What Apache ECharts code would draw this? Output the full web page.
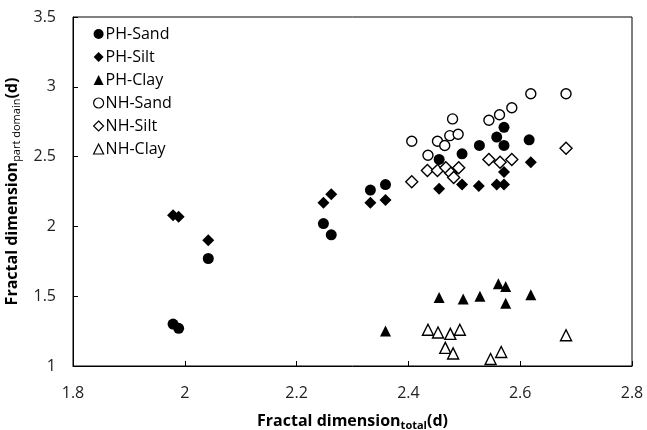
<!DOCTYPE html>
<html>
<head>
<meta charset="utf-8">
<script src="https://cdn.jsdelivr.net/npm/echarts@6/dist/echarts.min.js"></script>
<style>
  html, body { margin: 0; padding: 0; background: #fff; }
  #chart { width: 647px; height: 430px; }
</style>
</head>
<body>
<div id="chart"></div>
<script>
// values: [total, part domain]
var phSand = [[1.979, 1.30], [1.989, 1.27], [2.042, 1.77], [2.248, 2.02], [2.262, 1.94],
  [2.332, 2.26], [2.359, 2.30], [2.455, 2.48], [2.496, 2.52], [2.527, 2.58],
  [2.558, 2.64], [2.571, 2.71], [2.571, 2.58], [2.616, 2.62]];
var phSilt = [[1.979, 2.08], [1.989, 2.07], [2.042, 1.90], [2.248, 2.17], [2.262, 2.23],
  [2.332, 2.17], [2.359, 2.19], [2.455, 2.27], [2.496, 2.30], [2.526, 2.29],
  [2.558, 2.30], [2.571, 2.30], [2.571, 2.39], [2.619, 2.46]];
var phClay = [[2.359, 1.25], [2.455, 1.49], [2.498, 1.48], [2.528, 1.50], [2.561, 1.59],
  [2.574, 1.57], [2.574, 1.45], [2.619, 1.51]];
var nhSand = [[2.406, 2.61], [2.435, 2.51], [2.452, 2.61], [2.465, 2.58], [2.474, 2.65],
  [2.479, 2.77], [2.489, 2.66], [2.544, 2.76], [2.563, 2.80], [2.585, 2.85],
  [2.619, 2.95], [2.682, 2.95]];
var nhSilt = [[2.406, 2.32], [2.434, 2.40], [2.452, 2.40], [2.467, 2.42], [2.476, 2.38],
  [2.481, 2.35], [2.490, 2.42], [2.544, 2.48], [2.564, 2.46], [2.585, 2.48], [2.682, 2.56]];
var nhClay = [[2.435, 1.26], [2.453, 1.24], [2.475, 1.23], [2.492, 1.26], [2.466, 1.13],
  [2.480, 1.09], [2.547, 1.05], [2.566, 1.10], [2.682, 1.22]];
var seriesNames = ['PH-Sand', 'PH-Silt', 'PH-Clay', 'NH-Sand', 'NH-Silt', 'NH-Clay'];

var font = "'Open Sans', 'Noto Sans', sans-serif";
var chart = echarts.init(document.getElementById('chart'));

function filled(name, data, symbol, size) {
  return {
    name: name, type: 'scatter', data: data, symbol: symbol, symbolSize: size,
    itemStyle: { color: '#000', opacity: 1 }
  };
}
function hollow(name, data, symbol, size) {
  return {
    name: name, type: 'scatter', data: data, symbol: symbol, symbolSize: size,
    itemStyle: { color: '#fff', borderColor: '#000', borderWidth: 1.4, opacity: 1 }
  };
}

chart.setOption({
  animation: false,
  backgroundColor: '#fff',
  grid: {
    left: 73, right: 15, top: 17, bottom: 64,
    outerBoundsMode: 'none',
    show: true, borderColor: '#000', borderWidth: 1
  },
  legend: {
    data: seriesNames,
    orient: 'vertical',
    left: 88, top: 21,
    itemGap: 7,
    itemWidth: 10, itemHeight: 10,
    itemStyle: { borderWidth: 1.2 },
    textStyle: { fontFamily: font, fontSize: 16, color: '#000', padding: [0, 0, 0, -3] }
  },
  xAxis: {
    type: 'value', min: 1.8, max: 2.8, interval: 0.2,
    name: '{a|Fractal dimension}{b|total}{a|(d)}',
    nameLocation: 'middle', nameGap: 45,
    nameTextStyle: {
      rich: {
        a: { fontFamily: font, fontSize: 16, fontWeight: 'bold', color: '#000' },
        b: { fontFamily: font, fontSize: 11, fontWeight: 'bold', color: '#000', padding: [9, 0, 0, 0] }
      }
    },
    splitLine: { show: false },
    axisLine: { lineStyle: { color: '#000' } },
    axisTick: { inside: true, length: 5, lineStyle: { color: '#000' } },
    axisLabel: { fontFamily: font, fontSize: 16, color: '#222', margin: 19,
      formatter: function (v) { return String(+v.toFixed(1)); } }
  },
  yAxis: {
    type: 'value', min: 1, max: 3.5, interval: 0.5,
    name: '{a|Fractal dimension}{b|part domain}{a|(d)}',
    nameLocation: 'middle', nameGap: 47, nameRotate: 90,
    nameTextStyle: {
      rich: {
        a: { fontFamily: font, fontSize: 16, fontWeight: 'bold', color: '#000' },
        b: { fontFamily: font, fontSize: 11, color: '#000', padding: [9, 0, 0, 0] }
      }
    },
    splitLine: { show: false },
    axisLine: { show: true, lineStyle: { color: '#000' } },
    axisTick: { show: true, inside: true, length: 5, lineStyle: { color: '#000' } },
    axisLabel: { fontFamily: font, fontSize: 16, color: '#222', margin: 17 }
  },
  series: [
    filled('PH-Sand', phSand, 'circle', 11),
    filled('PH-Silt', phSilt, 'diamond', 12),
    filled('PH-Clay', phClay, 'triangle', 11),
    hollow('NH-Sand', nhSand, 'circle', 10),
    hollow('NH-Silt', nhSilt, 'diamond', 12),
    hollow('NH-Clay', nhClay, 'triangle', 11)
  ]
});
</script>
</body>
</html>
